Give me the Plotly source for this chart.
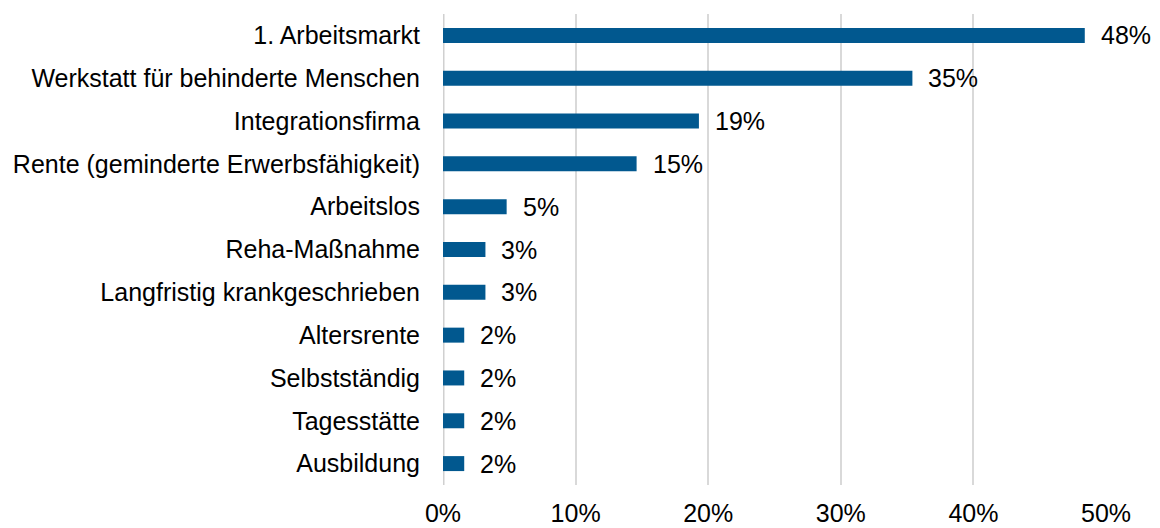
import plotly.graph_objects as go

categories = ["1. Arbeitsmarkt", "Werkstatt für behinderte Menschen", "Integrationsfirma",
              "Rente (geminderte Erwerbsfähigkeit)", "Arbeitslos", "Reha-Maßnahme",
              "Langfristig krankgeschrieben", "Altersrente", "Selbstständig",
              "Tagesstätte", "Ausbildung"]
values = [0.484, 0.354, 0.193, 0.146, 0.048, 0.032, 0.032, 0.016, 0.016, 0.016, 0.016]
value_labels = ["48%", "35%", "19%", "15%", "5%", "3%", "3%", "2%", "2%", "2%", "2%"]
tick_vals = [0, 0.1, 0.2, 0.3, 0.4, 0.5]
tick_text = ["0%", "10%", "20%", "30%", "40%", "50%"]

FONT = "Liberation Sans, Arial, sans-serif"
FS = 25

fig = go.Figure(go.Bar(
    x=values, y=categories, orientation="h",
    marker=dict(color="#01588F", line=dict(width=0)),
    width=0.35,
))

for c, v, t in zip(categories, values, value_labels):
    fig.add_annotation(x=v, y=c, text=t, showarrow=False, xanchor="left",
                       xshift=14, font=dict(family=FONT, size=FS, color="#000000"))

# page body has an 8px margin; figure sized to fit inside the window
fig.update_layout(
    width=1144, height=520,
    margin=dict(l=435, r=46, t=6, b=43, autoexpand=False),
    paper_bgcolor="white", plot_bgcolor="white",
    showlegend=False,
    font=dict(family=FONT, size=FS, color="#000000"),
)
fig.update_xaxes(
    range=[0, 0.5], tickvals=tick_vals, ticktext=tick_text,
    showgrid=True, gridcolor="#d9d9d9", gridwidth=2,
    zeroline=False, showline=False, ticks="", automargin=False,
    ticklabelstandoff=11,
    tickfont=dict(family=FONT, size=FS, color="#000000"),
)
fig.update_yaxes(
    autorange="reversed", showgrid=False, zeroline=False, automargin=False,
    showline=False, ticks="", ticklabelstandoff=22,
    tickfont=dict(family=FONT, size=FS, color="#000000"),
)
fig.add_shape(type="line", xref="x", yref="paper", x0=0, x1=0, y0=0, y1=1,
              line=dict(color="#d0d0d0", width=3), layer="below")

fig.write_html("out.html")
